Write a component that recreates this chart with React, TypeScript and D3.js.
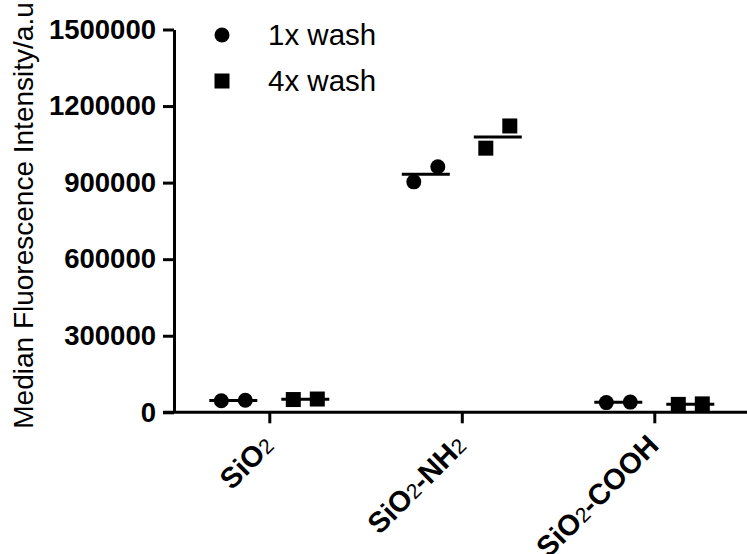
import { useEffect, useRef } from "react";
import * as d3 from "d3";

const categories = ["SiO2", "SiO2-NH2", "SiO2-COOH"];
const seriesNames = ["1x wash", "4x wash"];
// two replicates per category
const wash1 = [
  [45000, 47000],
  [903000, 962000],
  [38000, 40000],
];
const wash4 = [
  [50000, 52000],
  [1035000, 1122000],
  [31000, 33000],
];
const yTicks = [0, 300000, 600000, 900000, 1200000, 1500000];

const FONT = "'Liberation Sans', Arial, sans-serif";

export default function App() {
  const ref = useRef<SVGSVGElement>(null);

  useEffect(() => {
    const width = 747;
    const height = 554;
    const svg = d3.select(ref.current).attr("width", width).attr("height", height);
    svg.selectAll("*").remove();

    const axisX = 174;
    const y = d3.scaleLinear().domain([0, 1500000]).range([412.3, 29.5]);
    const x = d3.scalePoint<string>().domain(categories).range([269.3, 654.3]);
    const sx = d3.scalePoint<string>().domain(seriesNames).range([-36, 36]);
    const rx = d3.scalePoint<number>().domain([0, 1]).range([-12, 12]);

    // y axis
    const yAxis = svg
      .append("g")
      .attr("transform", `translate(${axisX},0)`)
      .call(
        d3
          .axisLeft(y)
          .tickValues(yTicks)
          .tickSize(11)
          .tickSizeOuter(0)
          .tickPadding(7)
          .tickFormat(d3.format("d"))
      );
    yAxis.select(".domain").attr("stroke", "#000").attr("stroke-width", 3);
    yAxis.selectAll(".tick line").attr("stroke", "#000").attr("stroke-width", 3);
    yAxis
      .selectAll(".tick text")
      .attr("fill", "#000")
      .style("font-family", FONT)
      .style("font-size", "27.5px")
      .style("font-weight", "bold");

    // x axis line
    svg
      .append("line")
      .attr("x1", 163)
      .attr("x2", width)
      .attr("y1", y(0))
      .attr("y2", y(0))
      .attr("stroke", "#000")
      .attr("stroke-width", 3);

    const xAxis = svg
      .append("g")
      .attr("transform", `translate(0,${y(0)})`)
      .call(d3.axisBottom(x).tickSize(11).tickSizeOuter(0).tickFormat(() => ""));
    xAxis.select(".domain").remove();
    xAxis.selectAll(".tick line").attr("stroke", "#000").attr("stroke-width", 3);

    // rotated category labels, "2" drawn small and plain
    const labels = svg
      .append("g")
      .selectAll("text")
      .data(categories)
      .enter()
      .append("text")
      .attr("transform", (d) => `translate(${(x(d) as number) + 6},${y(0) + 35}) rotate(-45)`)
      .attr("text-anchor", "end")
      .style("font-family", FONT)
      .style("font-size", "29px")
      .style("font-weight", "bold")
      .attr("fill", "#000");
    labels.each(function (d) {
      const t = d3.select(this);
      d.split(/(2)/)
        .filter((p) => p.length > 0)
        .forEach((p) => {
          const span = t.append("tspan").text(p);
          if (p === "2") span.style("font-size", "21px").style("font-weight", "normal");
        });
    });

    // y title
    svg
      .append("text")
      .attr("transform", `translate(33,215.5) rotate(-90)`)
      .attr("text-anchor", "middle")
      .style("font-family", FONT)
      .style("font-size", "28px")
      .attr("fill", "#000")
      .text("Median Fluorescence Intensity/a.u");

    const series = [wash1, wash4];
    series.forEach((vals, si) => {
      const name = seriesNames[si];
      const g = svg.append("g");
      vals.forEach((reps, ci) => {
        const cx = (x(categories[ci]) as number) + (sx(name) as number);
        const mean = d3.mean(reps) as number;
        g.append("line")
          .attr("x1", cx - 24)
          .attr("x2", cx + 24)
          .attr("y1", y(mean))
          .attr("y2", y(mean))
          .attr("stroke", "#000")
          .attr("stroke-width", 3);
        reps.forEach((v, ri) => {
          const px = cx + (rx(ri) as number);
          if (si === 0) {
            g.append("circle").attr("cx", px).attr("cy", y(v)).attr("r", 7.5).attr("fill", "#000");
          } else {
            g.append("rect")
              .attr("x", px - 7.5)
              .attr("y", y(v) - 7.5)
              .attr("width", 15)
              .attr("height", 15)
              .attr("fill", "#000");
          }
        });
      });
    });

    // legend
    const legend = svg
      .append("g")
      .selectAll("g")
      .data(seriesNames)
      .enter()
      .append("g")
      .attr("transform", (d, i) => `translate(222,${35 + i * 46})`);
    legend.each(function (d, i) {
      const g = d3.select(this);
      if (i === 0) g.append("circle").attr("r", 7.5).attr("fill", "#000");
      else g.append("rect").attr("x", -7.5).attr("y", -7.5).attr("width", 15).attr("height", 15).attr("fill", "#000");
    });
    legend
      .append("text")
      .attr("x", 46)
      .attr("y", 10)
      .style("font-family", FONT)
      .style("font-size", "29.5px")
      .attr("fill", "#000")
      .text((d) => d);
  }, []);

  return <svg ref={ref} style={{ position: "absolute", left: 0, top: 0, background: "#fff" }}></svg>;
}
